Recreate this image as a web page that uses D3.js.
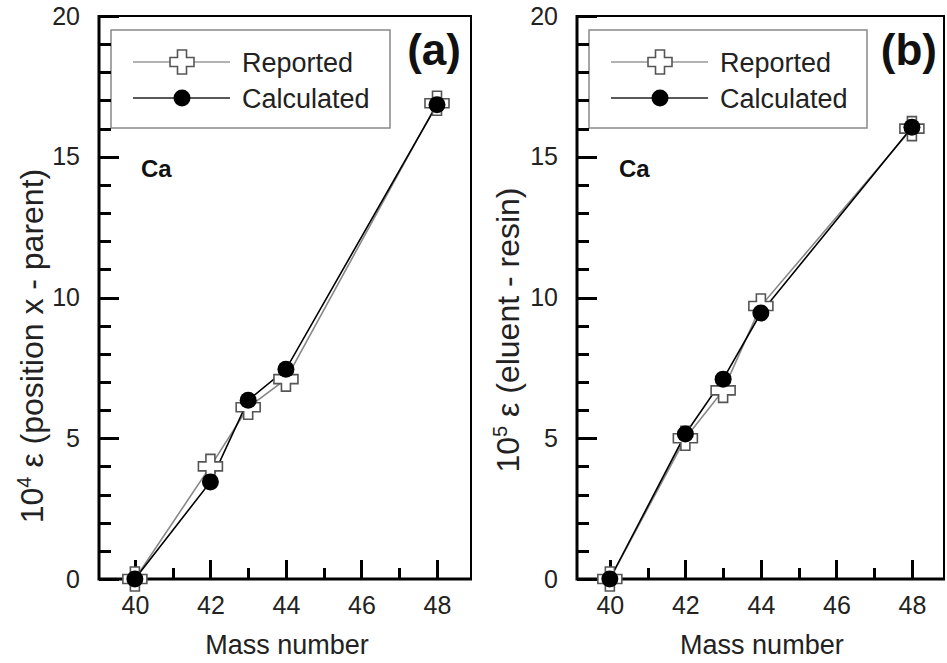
<!DOCTYPE html>
<html>
<head>
<meta charset="utf-8">
<script src="https://cdn.jsdelivr.net/npm/d3@7"></script>
<style>
  body { margin: 0; background: #fff; }
  svg { font-family: "Liberation Sans", Arial, sans-serif; }
</style>
</head>
<body>
<div id="chart"></div>
<script>
// mass numbers of the Ca isotopes
var massNumbers = [40, 42, 43, 44, 48];

// panel (a): 10^4 eps (position x - parent)
var reportedA   = [0, 4.0, 6.1, 7.1, 16.9];
var calculatedA = [0, 3.45, 6.35, 7.45, 16.85];

// panel (b): 10^5 eps (eluent - resin)
var reportedB   = [0, 5.0, 6.7, 9.7, 16.0];
var calculatedB = [0, 5.15, 7.1, 9.45, 16.05];

var xTicks = [40, 42, 44, 46, 48];
var xMinorTicks = [41, 43, 45, 47];
var yTicks = [0, 5, 10, 15, 20];
var yMinorTicks = [1, 2, 3, 4, 6, 7, 8, 9, 11, 12, 13, 14, 16, 17, 18, 19];
var seriesNames = ["Reported", "Calculated"];

var W = 947, H = 663;
var svg = d3.select("#chart").append("svg").attr("width", W).attr("height", H);

// plus-shaped marker path, centered on 0,0
function crossPath(a, b) {
	return "M" + (-b) + "," + (-a) + "H" + b + "V" + (-b) + "H" + a + "V" + b + "H" + b + "V" + a +
		"H" + (-b) + "V" + b + "H" + (-a) + "V" + (-b) + "H" + (-b) + "Z";
}

function drawPanel(opt) {
	var x = d3.scaleLinear().domain(opt.xDomain).range([opt.left, opt.right]);
	var y = d3.scaleLinear().domain([0, 20]).range([579, 16]);
	var g = svg.append("g");

	// frame: thin top and right
	g.append("path").attr("d", "M" + opt.left + ",16H" + opt.right + "V579")
		.attr("fill", "none").attr("stroke", "#000").attr("stroke-width", 2);

	// tick labels from d3 axes
	var yAxis = d3.axisLeft(y).tickValues(yTicks).tickSize(0).tickPadding(19).tickFormat(d3.format("d"));
	var xAxis = d3.axisBottom(x).tickValues(xTicks).tickSize(0).tickPadding(17).tickFormat(d3.format("d"));
	[[yAxis, "translate(" + opt.left + ",0)"], [xAxis, "translate(0,579)"]].forEach(function(p) {
		var ag = g.append("g").attr("transform", p[1]).call(p[0]);
		ag.select(".domain").remove();
		ag.selectAll(".tick line").remove();
		ag.selectAll("text").attr("font-size", 25).attr("fill", "#222")
			.attr("font-family", "Liberation Sans, Arial, sans-serif");
	});

	// axis titles
	g.append("text").attr("x", (x(40) + x(48)) / 2 + 1).attr("y", 654).attr("text-anchor", "middle")
		.attr("font-size", 27).attr("fill", "#222").text("Mass number");
	var yl = g.append("text")
		.attr("transform", "translate(" + opt.labelX + "," + opt.labelY + ") rotate(-90)")
		.attr("text-anchor", "middle").attr("font-size", 32).attr("fill", "#222");
	yl.append("tspan").text("10");
	yl.append("tspan").attr("font-size", 20).attr("dy", -12).text(opt.power);
	yl.append("tspan").attr("dy", 12).text(" \u03b5 " + opt.label);

	// legend
	var lx = opt.left + 12;
	g.append("rect").attr("x", lx).attr("y", 30).attr("width", opt.legendW).attr("height", 98)
		.attr("fill", "#fff").attr("stroke", "#888").attr("stroke-width", 1.5);
	var ly = [62, 98];
	seriesNames.forEach(function(name, i) {
		g.append("line").attr("x1", lx + 22).attr("x2", lx + 119).attr("y1", ly[i]).attr("y2", ly[i])
			.attr("stroke", i == 0 ? "#999" : "#222").attr("stroke-width", 1.6);
		if (i == 0) {
			g.append("path").attr("transform", "translate(" + (lx + 71) + "," + ly[i] + ")")
				.attr("d", crossPath(12, 4.5)).attr("fill", "#fff").attr("stroke", "#555").attr("stroke-width", 1.6);
		} else {
			g.append("circle").attr("cx", lx + 71).attr("cy", ly[i]).attr("r", 8.5).attr("fill", "#000");
		}
		g.append("text").attr("x", lx + 131).attr("y", ly[i] + 10).attr("font-size", 27).attr("fill", "#222").text(name);
	});

	// inward ticks, snapped to whole pixels so they stay crisp
	var r = function(v) { return Math.round(v) + 0.5; };
	var tickD = yMinorTicks.map(function(v) { return "M" + opt.left + "," + r(y(v)) + "h12"; }).join("") +
		yTicks.map(function(v) { return "M" + opt.left + "," + r(y(v)) + "h20"; }).join("") +
		xMinorTicks.map(function(v) { return "M" + r(x(v)) + ",579v-11"; }).join("") +
		xTicks.map(function(v) { return "M" + r(x(v)) + ",579v-19"; }).join("");
	g.append("path").attr("class", "ticks").attr("d", tickD)
		.attr("fill", "none").attr("stroke", "#000").attr("stroke-width", 3)
		.attr("shape-rendering", "crispEdges");

	// thick left and bottom axis lines
	g.append("path").attr("d", "M" + opt.left + ",15V579H" + (opt.right + 1))
		.attr("fill", "none").attr("stroke", "#000").attr("stroke-width", 3);

	// series
	var line = d3.line().x(function(d) { return x(d.m); }).y(function(d) { return y(d.v); });
	var rep = massNumbers.map(function(m, i) { return { m: m, v: opt.reported[i] }; });
	var cal = massNumbers.map(function(m, i) { return { m: m, v: opt.calculated[i] }; });

	g.append("path").datum(rep).attr("d", line).attr("fill", "none")
		.attr("stroke", "#888").attr("stroke-width", 1.6);
	g.append("path").datum(cal).attr("d", line).attr("fill", "none")
		.attr("stroke", "#000").attr("stroke-width", 1.6);

	g.selectAll(".rep").data(rep).enter().append("path").attr("class", "rep")
		.attr("transform", function(d) { return "translate(" + x(d.m) + "," + y(d.v) + ")"; })
		.attr("d", crossPath(12, 4.5)).attr("fill", "#fff").attr("stroke", "#555").attr("stroke-width", 1.6);
	g.selectAll(".cal").data(cal).enter().append("circle").attr("class", "cal")
		.attr("cx", function(d) { return x(d.m); }).attr("cy", function(d) { return y(d.v); })
		.attr("r", 8.5).attr("fill", "#000");

	// panel tag and element
	g.append("text").attr("x", opt.right - opt.tagPad).attr("y", 65).attr("text-anchor", "end")
		.attr("font-size", 44).attr("font-weight", "bold").attr("fill", "#111").text(opt.tag);
	g.append("text").attr("x", opt.left + 42).attr("y", 177)
		.attr("font-size", 24).attr("font-weight", "bold").attr("fill", "#111").text("Ca");
}

drawPanel({ left: 99, right: 471, xDomain: [39.05, 48.9], reported: reportedA, calculated: calculatedA,
	tag: "(a)", tagPad: 10, power: "4", label: "(position x - parent)", labelX: 43, labelY: 346, legendW: 279 });
drawPanel({ left: 577, right: 944, xDomain: [39.13, 48.85], reported: reportedB, calculated: calculatedB,
	tag: "(b)", tagPad: 7, power: "5", label: "(eluent - resin)", labelX: 519, labelY: 330, legendW: 278 });
</script>
</body>
</html>
